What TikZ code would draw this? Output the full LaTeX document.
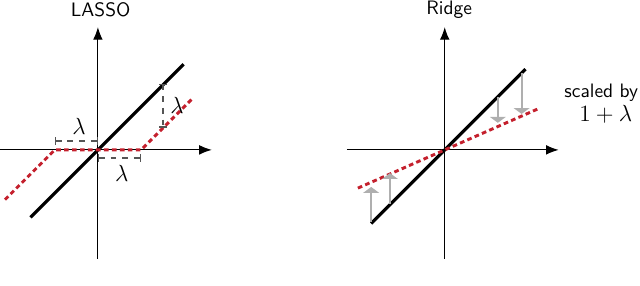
\documentclass[tikz,border=0pt]{standalone}
\usetikzlibrary{arrows.meta, calc}

\definecolor{fitred}{RGB}{196,32,45}
\definecolor{lamgray}{RGB}{85,85,85}
\definecolor{shrinkgray}{RGB}{175,175,175}

\begin{document}
\begin{tikzpicture}[>=Latex,
  axis/.style={-{Latex[length=6.5pt,width=5pt]}, line width=0.6pt},
  ols/.style={line width=1.6pt, black},
  fit/.style={line width=1.5pt, fitred, dash pattern=on 2.4pt off 1.7pt},
  lamline/.style={lamgray, dashed, line width=0.7pt, {Bar[width=4pt]}-{Bar[width=4pt]}},
  shrink/.style={shrinkgray, line width=0.9pt, -{Triangle[length=3pt,width=8pt]}},
  lamlabel/.style={font=\fontsize{13}{15}\selectfont},
  paneltitle/.style={font=\sffamily, anchor=base}]

%% fixed frame (same margins as the figure)
\useasboundingbox (-1.77,-2.46) rectangle (9.80,2.71);

%% ============================================================
%% LASSO: soft thresholding
%% ============================================================
\def\lam{0.78}   % threshold

\coordinate (O) at (0,0);
\draw[axis] (-1.77,0) -- (2.06,0);
\draw[axis] (0,-1.97) -- (0,2.22);
\node[paneltitle] (lasso) at (0.05,2.41) {LASSO};

%% ---- least squares (identity) ----
\draw[ols] (-1.22,-1.22) -- (1.55,1.55);

%% ---- soft-threshold estimate ----
\draw[fit] (-1.68,{-1.68+\lam}) -- (-\lam,0) -- (\lam,0) -- (1.70,{1.70-\lam});

%% ---- lambda brackets ----
\draw[lamline] (-\lam,0.16) -- (0,0.16);
\node[lamlabel] (lamleft) at (-0.34,0.43) {$\lambda$};

\draw[lamline] (0,-0.145) -- (\lam,-0.145);
\node[lamlabel] (lamright) at (0.43,-0.42) {$\lambda$};

\coordinate (Ltop) at (1.18,1.20);
\coordinate (Lbot) at (1.18,{1.18-\lam});
\draw[lamline] (Ltop) -- (Lbot);
\node[lamlabel] (lamvert) at (1.43,0.81) {$\lambda$};

%% ============================================================
%% Ridge: proportional shrinkage
%% ============================================================
\def\slope{0.44}  % 1/(1+lambda)

\begin{scope}[shift={(6.27,0)}]
\draw[axis] (-1.77,0) -- (2.06,0);
\draw[axis] (0,-1.97) -- (0,2.22);
\node[paneltitle] (ridge) at (0.08,2.44) {Ridge};

\draw[ols] (-1.33,-1.33) -- (1.46,1.46);
\draw[fit] (-1.57,{-1.57*\slope}) -- (1.70,{1.70*\slope});

% shrink arrows from the identity line to the ridge line
\foreach \x/\ya/\yb [count=\i] in {1.39/1.39/0.65, 0.96/0.96/0.49,
                                   -1.33/-1.31/-0.67, -0.99/-0.97/-0.42} {
  \coordinate (S\i) at (\x,\ya);
  \coordinate (E\i) at (\x,\yb);
  \draw[shrink] (S\i) -- (E\i);
}

\node[paneltitle] (scaled) at (2.83,0.94) {scaled by};
\node[lamlabel, anchor=base] (factor) at (2.91,0.51) {$1+\lambda$};
\end{scope}

\end{tikzpicture}
\end{document}
